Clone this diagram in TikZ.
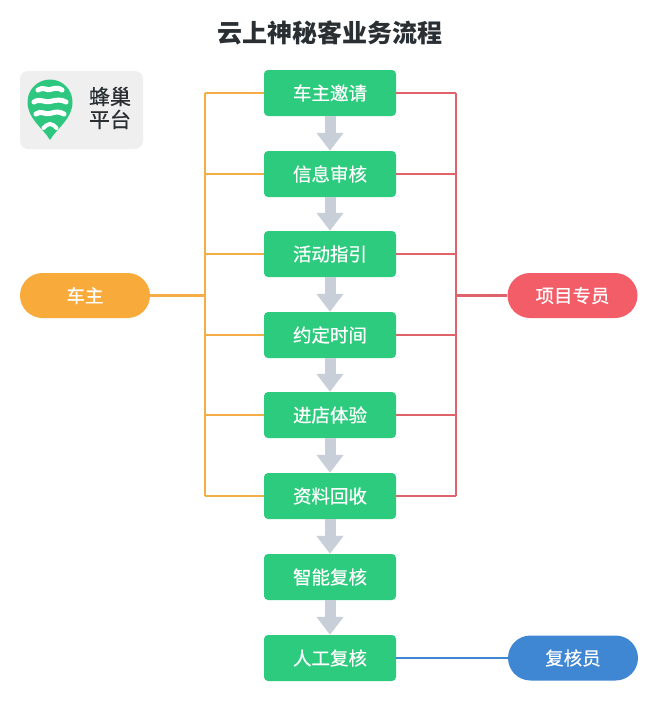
\documentclass[tikz,border=0pt]{standalone}
\usepackage{fontspec}
\newfontfamily\cjk{Noto Sans CJK SC}
\newfontfamily\cjkm[FakeBold=0.5]{Noto Sans CJK SC}
\usetikzlibrary{arrows.meta}
\definecolor{boxgreen}{HTML}{2DCB7E}
\definecolor{lorange}{HTML}{F5AE45}
\definecolor{porange}{HTML}{F8AA3B}
\definecolor{lred}{HTML}{E0636C}
\definecolor{pred}{HTML}{F25D67}
\definecolor{pblue}{HTML}{3F86D3}
\definecolor{agray}{HTML}{C8CFD9}
\definecolor{logobg}{HTML}{EFEFEF}
\definecolor{logogreen}{HTML}{2DC77F}
\definecolor{titlec}{HTML}{2A2F33}
\begin{document}
\begin{tikzpicture}[x=1pt,y=-1pt,
  stepbox/.style={rectangle,rounded corners=4pt,fill=boxgreen,minimum width=132pt,minimum height=46pt,inner sep=0pt,text=white,font=\cjkm\fontsize{18.5}{20}\selectfont},
  pill/.style={rectangle,rounded corners=22.5pt,minimum width=130pt,minimum height=45pt,inner sep=0pt,text=white,font=\cjkm\fontsize{18.5}{20}\selectfont},
  flowarrow/.style={draw=agray,line width=11pt,-{Triangle[length=18pt,width=26pt]},shorten >=0pt},
  oline/.style={draw=lorange,line width=2.6pt},
  rline/.style={draw=lred,line width=2.6pt},
  bline/.style={draw=pblue,line width=2.6pt},
  stripe/.style={draw=white,line width=5pt,line cap=round}]
\useasboundingbox (0,0) rectangle (660,702);
\fill[white] (0,0) rectangle (660,702);
% title
\node[font=\cjk\bfseries\fontsize{25}{28}\selectfont,text=titlec] (title) at (330,33) {云上神秘客业务流程};
% logo
\node[fill=logobg,rounded corners=8pt,minimum width=123pt,minimum height=78pt,inner sep=0pt] (logo) at (81.5,110) {};
\path[fill=logogreen] (50,140) .. controls (43,128) and (27.5,119) .. (27.5,102) arc[start angle=180,end angle=360,radius=22.5] .. controls (72.5,119) and (57,128) .. (50,140) -- cycle;
\draw[stripe] (38,90) .. controls (43,86.5) and (47,90.5) .. (50,89.5) .. controls (54,88.5) and (58,87) .. (62,90);
\draw[stripe] (34,102) .. controls (40,98) and (45,103) .. (50,101.5) .. controls (56,100) and (61,99) .. (66,102);
\draw[stripe] (36,114) .. controls (41,110) and (45,115) .. (50,113.5) .. controls (55,112) and (59,111) .. (64,114);
\draw[stripe,line width=4pt] (43.5,128) .. controls (46,125.5) and (48,124) .. (50,124) .. controls (52,124) and (54,125.5) .. (56.5,128);
\node[font=\cjkm\fontsize{21}{24}\selectfont,text=titlec,align=left] (logotext) at (110,108) {蜂巢\\[-1pt]平台};
% steps
\node[stepbox] (s1) at (330,93) {车主邀请};
\node[stepbox] (s2) at (330,174) {信息审核};
\node[stepbox] (s3) at (330,254) {活动指引};
\node[stepbox] (s4) at (330,335) {约定时间};
\node[stepbox] (s5) at (330,415) {进店体验};
\node[stepbox] (s6) at (330,496) {资料回收};
\node[stepbox] (s7) at (330,577) {智能复核};
\node[stepbox] (s8) at (330,658) {人工复核};
\foreach \a/\b in {s1/s2,s2/s3,s3/s4,s4/s5,s5/s6,s6/s7,s7/s8}
  \draw[flowarrow] (\a.south) -- (\b.north);
% side pills
\node[pill,fill=porange] (owner) at (85,295.5) {车主};
\node[pill,fill=pred] (pm) at (572.5,295.5) {项目专员};
\node[pill,fill=pblue] (rev) at (573,658) {复核员};
% bus coordinates
\coordinate (lt) at (205,93);
\coordinate (lb) at (205,496);
\coordinate (rt) at (456,93);
\coordinate (rb) at (456,496);
\draw[oline] (lt) -- (lb);
\draw[rline] (rt) -- (rb);
\foreach \s in {s1,s2,s3,s4,s5,s6}{
  \draw[oline] (\s.west) -- (\s.west -| lt);
  \draw[rline] (\s.east) -- (\s.east -| rt);
}
\draw[oline] (owner.east) -- (owner.east -| lt);
\draw[rline] (pm.west) -- (pm.west -| rt);
\draw[bline] (s8.east) -- (rev.west);
\end{tikzpicture}
\end{document}
